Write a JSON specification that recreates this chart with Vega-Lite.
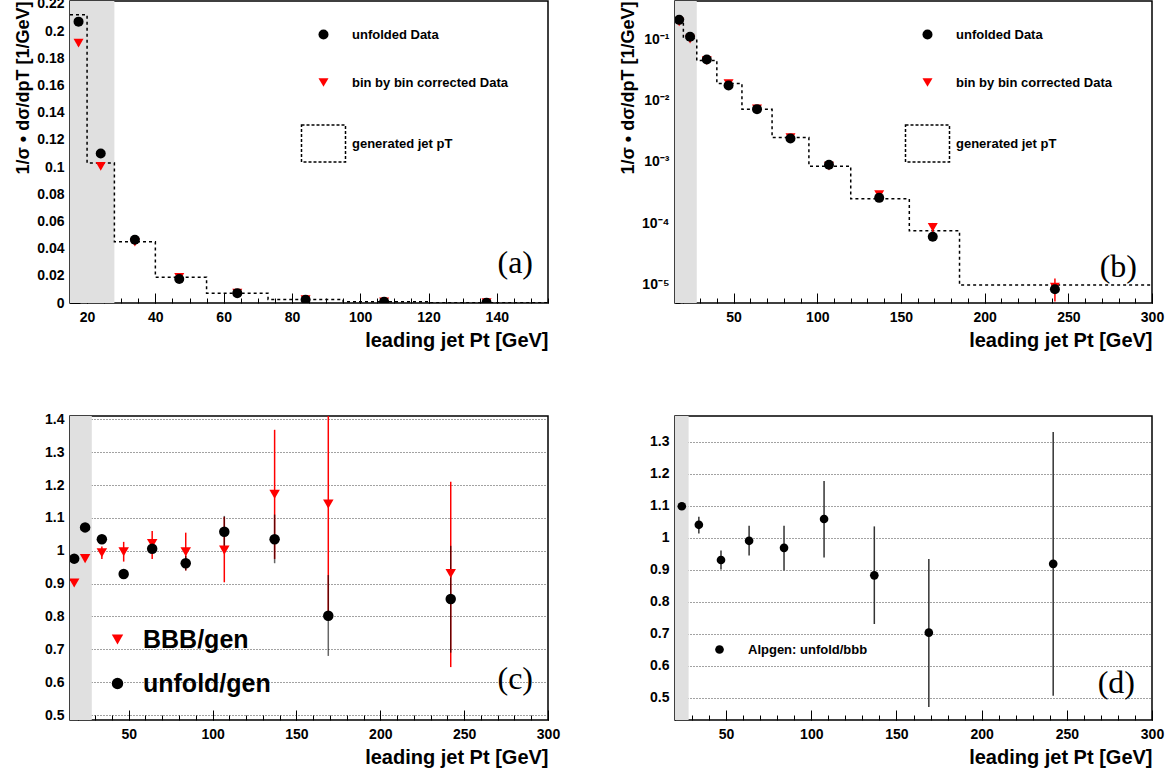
{
  "$schema": "https://vega.github.io/schema/vega-lite/v6.json",
  "autosize": {"type": "pad"},
  "padding": {"left": 14, "top": -4, "right": 0, "bottom": 0},
  "background": "white",
  "datasets": {
    "band": [{"pt": 15, "pt2": 28}],
    "bandd": [{"pt": 20, "pt2": 28}],
    "gen": [
      {"pt": 15, "v": 0.212}, {"pt": 20, "v": 0.103}, {"pt": 28, "v": 0.045}, {"pt": 40, "v": 0.019},
      {"pt": 55, "v": 0.0072}, {"pt": 73, "v": 0.0025}, {"pt": 95, "v": 0.00085}, {"pt": 120, "v": 0.00025},
      {"pt": 155, "v": 0.000075}, {"pt": 185, "v": 0.0000098}, {"pt": 300, "v": 0.0000098}
    ],
    "pts": [
      {"series": "bin by bin corrected Data", "pt": 17.5, "v": 0.1912, "lo": 0.189, "hi": 0.193},
      {"series": "bin by bin corrected Data", "pt": 24, "v": 0.1005, "lo": 0.099, "hi": 0.102},
      {"series": "bin by bin corrected Data", "pt": 34, "v": 0.0447, "lo": 0.0441, "hi": 0.0453},
      {"series": "bin by bin corrected Data", "pt": 47, "v": 0.01894, "lo": 0.0186, "hi": 0.0193},
      {"series": "bin by bin corrected Data", "pt": 64, "v": 0.00736, "lo": 0.0072, "hi": 0.0075},
      {"series": "bin by bin corrected Data", "pt": 84, "v": 0.00249, "lo": 0.00243, "hi": 0.00255},
      {"series": "bin by bin corrected Data", "pt": 107, "v": 0.000852, "lo": 0.00081, "hi": 0.0009},
      {"series": "bin by bin corrected Data", "pt": 137, "v": 0.000293, "lo": 0.00027, "hi": 0.000316},
      {"series": "bin by bin corrected Data", "pt": 169, "v": 0.0000857, "lo": 0.00007, "hi": 0.000101},
      {"series": "bin by bin corrected Data", "pt": 242, "v": 0.00000912, "lo": 0.0000053, "hi": 0.0000125},
      {"series": "unfolded Data", "pt": 17.5, "v": 0.207, "lo": 0.205, "hi": 0.209},
      {"series": "unfolded Data", "pt": 24, "v": 0.110, "lo": 0.109, "hi": 0.111},
      {"series": "unfolded Data", "pt": 34, "v": 0.0466, "lo": 0.046, "hi": 0.0472},
      {"series": "unfolded Data", "pt": 47, "v": 0.01765, "lo": 0.0174, "hi": 0.0179},
      {"series": "unfolded Data", "pt": 64, "v": 0.00724, "lo": 0.0071, "hi": 0.0074},
      {"series": "unfolded Data", "pt": 84, "v": 0.00241, "lo": 0.00234, "hi": 0.00248},
      {"series": "unfolded Data", "pt": 107, "v": 0.000899, "lo": 0.00086, "hi": 0.00094},
      {"series": "unfolded Data", "pt": 137, "v": 0.000259, "lo": 0.000245, "hi": 0.000273},
      {"series": "unfolded Data", "pt": 169, "v": 0.0000602, "lo": 0.000052, "hi": 0.000069},
      {"series": "unfolded Data", "pt": 242, "v": 0.00000836, "lo": 0.0000068, "hi": 0.0000099}
    ],
    "ratio": [
      {"series": "BBB/gen", "pt": 17.5, "v": 0.902, "lo": 0.895, "hi": 0.91},
      {"series": "BBB/gen", "pt": 24, "v": 0.976, "lo": 0.97, "hi": 0.982},
      {"series": "BBB/gen", "pt": 34, "v": 0.994, "lo": 0.975, "hi": 1.013},
      {"series": "BBB/gen", "pt": 47, "v": 0.997, "lo": 0.967, "hi": 1.027},
      {"series": "BBB/gen", "pt": 64, "v": 1.022, "lo": 0.975, "hi": 1.06},
      {"series": "BBB/gen", "pt": 84, "v": 0.997, "lo": 0.94, "hi": 1.055},
      {"series": "BBB/gen", "pt": 107, "v": 1.002, "lo": 0.904, "hi": 1.103},
      {"series": "BBB/gen", "pt": 137, "v": 1.172, "lo": 0.975, "hi": 1.368},
      {"series": "BBB/gen", "pt": 169, "v": 1.142, "lo": 0.8, "hi": 1.48},
      {"series": "BBB/gen", "pt": 242, "v": 0.931, "lo": 0.646, "hi": 1.21},
      {"series": "unfold/gen", "pt": 17.5, "v": 0.976, "lo": 0.97, "hi": 0.982},
      {"series": "unfold/gen", "pt": 24, "v": 1.071, "lo": 1.065, "hi": 1.077},
      {"series": "unfold/gen", "pt": 34, "v": 1.035, "lo": 1.03, "hi": 1.04},
      {"series": "unfold/gen", "pt": 47, "v": 0.929, "lo": 0.923, "hi": 0.935},
      {"series": "unfold/gen", "pt": 64, "v": 1.006, "lo": 0.995, "hi": 1.017},
      {"series": "unfold/gen", "pt": 84, "v": 0.962, "lo": 0.94, "hi": 0.984},
      {"series": "unfold/gen", "pt": 107, "v": 1.058, "lo": 1.01, "hi": 1.106},
      {"series": "unfold/gen", "pt": 137, "v": 1.035, "lo": 0.962, "hi": 1.11},
      {"series": "unfold/gen", "pt": 169, "v": 0.802, "lo": 0.68, "hi": 0.926},
      {"series": "unfold/gen", "pt": 242, "v": 0.853, "lo": 0.69, "hi": 1.015}
    ],
    "alp": [
      {"series": "Alpgen: unfold/bbb", "pt": 24, "v": 1.098, "lo": 1.088, "hi": 1.108},
      {"series": "Alpgen: unfold/bbb", "pt": 34, "v": 1.04, "lo": 1.013, "hi": 1.065},
      {"series": "Alpgen: unfold/bbb", "pt": 47, "v": 0.93, "lo": 0.9, "hi": 0.96},
      {"series": "Alpgen: unfold/bbb", "pt": 63.5, "v": 0.99, "lo": 0.944, "hi": 1.037},
      {"series": "Alpgen: unfold/bbb", "pt": 84, "v": 0.968, "lo": 0.897, "hi": 1.037},
      {"series": "Alpgen: unfold/bbb", "pt": 107.5, "v": 1.058, "lo": 0.938, "hi": 1.177},
      {"series": "Alpgen: unfold/bbb", "pt": 137, "v": 0.882, "lo": 0.73, "hi": 1.035},
      {"series": "Alpgen: unfold/bbb", "pt": 169, "v": 0.703, "lo": 0.471, "hi": 0.933},
      {"series": "Alpgen: unfold/bbb", "pt": 242, "v": 0.918, "lo": 0.506, "hi": 1.33}
    ]
  },
  "columns": 2,
  "spacing": {"column": 127, "row": 113},
  "bounds": "flush",
  "resolve": {
    "scale": {"x": "independent", "y": "independent", "color": "independent", "shape": "independent", "stroke": "independent", "strokeDash": "independent"},
    "legend": {"color": "independent", "shape": "independent", "stroke": "independent", "strokeDash": "independent"}
  },
  "concat": [
    {
      "width": 478, "height": 302,
      "title": {"text": "(a)", "orient": "top", "anchor": "end", "frame": "group", "baseline": "middle", "offset": 0, "dx": -15, "dy": 298},
      "resolve": {"axis": {"x": "independent", "y": "independent"}},
      "layer": [
        {
          "data": {"name": "band"},
          "mark": {"type": "rect", "fill": "#e0e0e0"},
          "encoding": {
            "x": {"field": "pt", "type": "quantitative", "scale": {"domain": [15, 155], "nice": false, "zero": false},
              "axis": {"orient": "bottom", "title": "leading jet Pt [GeV]", "offset": -10, "tickSize": 10, "format": "~g", "tickCount": 1000,
                "values": [20, 40, 60, 80, 100, 120, 140]}},
            "x2": {"field": "pt2"}
          }
        },
        {
          "data": {"name": "gen"},
          "mark": {"type": "line", "interpolate": "step-after", "stroke": "#000", "strokeDash": [3, 3], "strokeWidth": 1.5, "clip": true},
          "encoding": {
            "x": {"field": "pt", "type": "quantitative", "scale": {"domain": [15, 155], "nice": false, "zero": false},
              "axis": {"orient": "bottom", "title": null, "labels": false, "offset": -5, "tickSize": 5, "tickCount": 1000,
                "values": [15,20,25,30,35,40,45,50,55,60,65,70,75,80,85,90,95,100,105,110,115,120,125,130,135,140,145,150,155]}},
            "y": {"field": "v", "type": "quantitative", "scale": {"domain": [0, 0.2222], "nice": false},
              "axis": {"orient": "left", "title": "1/σ • dσ/dpT [1/GeV]", "format": "~g", "offset": -10, "tickSize": 10, "tickCount": 1000,
                "values": [0, 0.02, 0.04, 0.06, 0.08, 0.1, 0.12, 0.14, 0.16, 0.18, 0.2, 0.22]}}
          }
        },
        {
          "data": {"name": "pts"},
          "transform": [{"filter": "datum.series === 'bin by bin corrected Data'"}],
          "mark": {"type": "rule", "color": "#ff0000", "strokeWidth": 1.5, "clip": true},
          "encoding": {
            "x": {"field": "pt", "type": "quantitative", "scale": {"domain": [15, 155], "nice": false, "zero": false}, "axis": null},
            "y": {"field": "lo", "type": "quantitative", "scale": {"domain": [0, 0.2222], "nice": false},
              "axis": {"orient": "left", "title": null, "labels": false, "offset": -5, "tickSize": 5, "tickCount": 1000,
                "values": [0,0.004,0.008,0.012,0.016,0.02,0.024,0.028,0.032,0.036,0.04,0.044,0.048,0.052,0.056,0.06,0.064,0.068,0.072,0.076,0.08,0.084,0.088,0.092,0.096,0.1,0.104,0.108,0.112,0.116,0.12,0.124,0.128,0.132,0.136,0.14,0.144,0.148,0.152,0.156,0.16,0.164,0.168,0.172,0.176,0.18,0.184,0.188,0.192,0.196,0.2,0.204,0.208,0.212,0.216,0.22]}},
            "y2": {"field": "hi"}
          }
        },
        {
          "data": {"name": "pts"},
          "mark": {"type": "point", "filled": true, "size": 100, "opacity": 1, "strokeWidth": 1.5, "clip": true},
          "encoding": {
            "x": {"field": "pt", "type": "quantitative", "scale": {"domain": [15, 155], "nice": false, "zero": false}, "axis": null},
            "y": {"field": "v", "type": "quantitative", "scale": {"domain": [0, 0.2222], "nice": false}, "axis": null},
            "color": {"field": "series", "type": "nominal",
              "scale": {"domain": ["unfolded Data", "bin by bin corrected Data", "generated jet pT"], "range": ["#000000", "#ff0000", "transparent"]},
              "legend": {"orient": "none", "legendX": 247, "legendY": 27, "symbolSize": 100, "rowPadding": 32, "labelOffset": 22, "symbolStrokeWidth": 1.5}},
            "shape": {"field": "series", "type": "nominal",
              "scale": {"domain": ["unfolded Data", "bin by bin corrected Data", "generated jet pT"], "range": ["circle", "triangle-down", "M-4.4,-3.7H4.4V3.7H-4.4Z"]},
              "legend": {"orient": "none", "legendX": 247, "legendY": 27, "symbolSize": 100, "rowPadding": 32, "labelOffset": 22, "symbolStrokeWidth": 1.5}},
            "stroke": {"field": "series", "type": "nominal",
              "scale": {"domain": ["unfolded Data", "bin by bin corrected Data", "generated jet pT"], "range": ["transparent", "transparent", "#000000"]},
              "legend": {"orient": "none", "legendX": 247, "legendY": 27, "symbolSize": 100, "rowPadding": 32, "labelOffset": 22, "symbolStrokeWidth": 1.5}},
            "strokeDash": {"field": "series", "type": "nominal",
              "scale": {"domain": ["unfolded Data", "bin by bin corrected Data", "generated jet pT"], "range": [[1, 0], [1, 0], [3, 2]]},
              "legend": {"orient": "none", "legendX": 247, "legendY": 27, "symbolSize": 100, "rowPadding": 32, "labelOffset": 22, "symbolStrokeWidth": 1.5}}
          }
        }
      ]
    },
    {
      "width": 477, "height": 302,
      "title": {"text": "(b)", "orient": "top", "anchor": "end", "frame": "group", "baseline": "middle", "offset": 0, "dx": -15, "dy": 298},
      "resolve": {"axis": {"x": "independent", "y": "independent"}},
      "layer": [
        {
          "data": {"name": "band"},
          "mark": {"type": "rect", "fill": "#e0e0e0"},
          "encoding": {
            "x": {"field": "pt", "type": "quantitative", "scale": {"domain": [15, 300], "nice": false, "zero": false},
              "axis": {"orient": "bottom", "title": "leading jet Pt [GeV]", "offset": -10, "tickSize": 10, "format": "~g", "tickCount": 1000,
                "values": [50, 100, 150, 200, 250, 300]}},
            "x2": {"field": "pt2"}
          }
        },
        {
          "data": {"name": "gen"},
          "mark": {"type": "line", "interpolate": "step-after", "stroke": "#000", "strokeDash": [3, 3], "strokeWidth": 1.5, "clip": true},
          "encoding": {
            "x": {"field": "pt", "type": "quantitative", "scale": {"domain": [15, 300], "nice": false, "zero": false},
              "axis": {"orient": "bottom", "title": null, "labels": false, "offset": -5, "tickSize": 5, "tickCount": 1000,
                "values": [20,30,40,50,60,70,80,90,100,110,120,130,140,150,160,170,180,190,200,210,220,230,240,250,260,270,280,290,300]}},
            "y": {"field": "v", "type": "quantitative", "scale": {"type": "log", "domain": [0.000005, 0.42], "nice": false},
              "axis": {"orient": "left", "title": "1/σ • dσ/dpT [1/GeV]", "offset": -10, "tickSize": 10, "tickCount": 1000,
                "values": [0.00001, 0.0001, 0.001, 0.01, 0.1],
                "labelExpr": "'10' + ['⁻⁵','⁻⁴','⁻³','⁻²','⁻¹','⁰'][round(log(datum.value)/LN10) + 5]"}}
          }
        },
        {
          "data": {"name": "pts"},
          "transform": [{"filter": "datum.series === 'bin by bin corrected Data'"}],
          "mark": {"type": "rule", "color": "#ff0000", "strokeWidth": 1.5, "clip": true},
          "encoding": {
            "x": {"field": "pt", "type": "quantitative", "scale": {"domain": [15, 300], "nice": false, "zero": false}, "axis": null},
            "y": {"field": "lo", "type": "quantitative", "scale": {"type": "log", "domain": [0.000005, 0.42], "nice": false},
              "axis": {"orient": "left", "title": null, "labels": false, "offset": -5, "tickSize": 5, "tickCount": 1000,
                "values": [0.000005,0.000006,0.000007,0.000008,0.000009,0.00001,0.00002,0.00003,0.00004,0.00005,0.00006,0.00007,0.00008,0.00009,0.0001,0.0002,0.0003,0.0004,0.0005,0.0006,0.0007,0.0008,0.0009,0.001,0.002,0.003,0.004,0.005,0.006,0.007,0.008,0.009,0.01,0.02,0.03,0.04,0.05,0.06,0.07,0.08,0.09,0.1,0.2,0.3,0.4]}},
            "y2": {"field": "hi"}
          }
        },
        {
          "data": {"name": "pts"},
          "mark": {"type": "point", "filled": true, "size": 100, "opacity": 1, "strokeWidth": 1.5, "clip": true},
          "encoding": {
            "x": {"field": "pt", "type": "quantitative", "scale": {"domain": [15, 300], "nice": false, "zero": false}, "axis": null},
            "y": {"field": "v", "type": "quantitative", "scale": {"type": "log", "domain": [0.000005, 0.42], "nice": false}, "axis": null},
            "color": {"field": "series", "type": "nominal",
              "scale": {"domain": ["unfolded Data", "bin by bin corrected Data", "generated jet pT"], "range": ["#000000", "#ff0000", "transparent"]},
              "legend": {"orient": "none", "legendX": 246, "legendY": 27, "symbolSize": 100, "rowPadding": 32, "labelOffset": 22, "symbolStrokeWidth": 1.5}},
            "shape": {"field": "series", "type": "nominal",
              "scale": {"domain": ["unfolded Data", "bin by bin corrected Data", "generated jet pT"], "range": ["circle", "triangle-down", "M-4.4,-3.7H4.4V3.7H-4.4Z"]},
              "legend": {"orient": "none", "legendX": 246, "legendY": 27, "symbolSize": 100, "rowPadding": 32, "labelOffset": 22, "symbolStrokeWidth": 1.5}},
            "stroke": {"field": "series", "type": "nominal",
              "scale": {"domain": ["unfolded Data", "bin by bin corrected Data", "generated jet pT"], "range": ["transparent", "transparent", "#000000"]},
              "legend": {"orient": "none", "legendX": 246, "legendY": 27, "symbolSize": 100, "rowPadding": 32, "labelOffset": 22, "symbolStrokeWidth": 1.5}},
            "strokeDash": {"field": "series", "type": "nominal",
              "scale": {"domain": ["unfolded Data", "bin by bin corrected Data", "generated jet pT"], "range": [[1, 0], [1, 0], [3, 2]]},
              "legend": {"orient": "none", "legendX": 246, "legendY": 27, "symbolSize": 100, "rowPadding": 32, "labelOffset": 22, "symbolStrokeWidth": 1.5}}
          }
        }
      ]
    },
    {
      "width": 478, "height": 304,
      "title": {"text": "(c)", "orient": "top", "anchor": "end", "frame": "group", "baseline": "middle", "offset": 0, "dx": -15, "dy": 299},
      "resolve": {"axis": {"x": "independent", "y": "independent"}},
      "layer": [
        {
          "data": {"name": "band"},
          "mark": {"type": "rect", "fill": "#e0e0e0"},
          "encoding": {
            "x": {"field": "pt", "type": "quantitative", "scale": {"domain": [15, 300], "nice": false, "zero": false},
              "axis": {"orient": "bottom", "title": "leading jet Pt [GeV]", "offset": -10, "tickSize": 10, "format": "~g", "tickCount": 1000,
                "values": [50, 100, 150, 200, 250, 300]}},
            "x2": {"field": "pt2"}
          }
        },
        {
          "mark": {"type": "rule", "color": "#000", "strokeWidth": 1.2},
          "encoding": {
            "y": {"datum": 1, "type": "quantitative", "scale": {"domain": [0.485, 1.41], "nice": false, "zero": false},
              "axis": {"orient": "left", "title": null, "format": "~g", "offset": -10, "tickSize": 10, "tickCount": 1000,
                "values": [0.5, 0.6, 0.7, 0.8, 0.9, 1, 1.1, 1.2, 1.3, 1.4]}}
          }
        },
        {
          "data": {"name": "ratio"},
          "transform": [{"filter": "datum.series === 'BBB/gen'"}],
          "mark": {"type": "rule", "color": "#ff0000", "strokeWidth": 1.5, "clip": true},
          "encoding": {
            "x": {"field": "pt", "type": "quantitative", "scale": {"domain": [15, 300], "nice": false, "zero": false},
              "axis": {"orient": "bottom", "title": null, "labels": false, "offset": -5, "tickSize": 5, "tickCount": 1000,
                "values": [20,30,40,50,60,70,80,90,100,110,120,130,140,150,160,170,180,190,200,210,220,230,240,250,260,270,280,290,300]}},
            "y": {"field": "lo", "type": "quantitative", "scale": {"domain": [0.485, 1.41], "nice": false, "zero": false},
              "axis": {"orient": "left", "title": null, "labels": false, "offset": -5, "tickSize": 5, "tickCount": 1000,
                "values": [0.5,0.52,0.54,0.56,0.58,0.6,0.62,0.64,0.66,0.68,0.7,0.72,0.74,0.76,0.78,0.8,0.82,0.84,0.86,0.88,0.9,0.92,0.94,0.96,0.98,1,1.02,1.04,1.06,1.08,1.1,1.12,1.14,1.16,1.18,1.2,1.22,1.24,1.26,1.28,1.3,1.32,1.34,1.36,1.38,1.4]}},
            "y2": {"field": "hi"}
          }
        },
        {
          "data": {"name": "ratio"},
          "transform": [{"filter": "datum.series === 'unfold/gen'"}],
          "mark": {"type": "rule", "color": "#000000", "opacity": 0.6, "strokeWidth": 1.5, "clip": true},
          "encoding": {
            "x": {"field": "pt", "type": "quantitative", "scale": {"domain": [15, 300], "nice": false, "zero": false}, "axis": null},
            "y": {"field": "lo", "type": "quantitative", "scale": {"domain": [0.485, 1.41], "nice": false, "zero": false},
              "axis": {"orient": "left", "title": null, "labels": false, "ticks": false, "grid": true, "gridDash": [1, 2], "gridColor": "#444", "tickCount": 1000,
                "values": [0.5, 0.6, 0.7, 0.8, 0.9, 1, 1.1, 1.2, 1.3, 1.4]}},
            "y2": {"field": "hi"}
          }
        },
        {
          "data": {"name": "ratio"},
          "mark": {"type": "point", "filled": true, "size": 110, "opacity": 1, "clip": true},
          "encoding": {
            "x": {"field": "pt", "type": "quantitative", "scale": {"domain": [15, 300], "nice": false, "zero": false}, "axis": null},
            "y": {"field": "v", "type": "quantitative", "scale": {"domain": [0.485, 1.41], "nice": false, "zero": false}, "axis": null},
            "color": {"field": "series", "type": "nominal",
              "scale": {"domain": ["BBB/gen", "unfold/gen"], "range": ["#ff0000", "#000000"]},
              "legend": {"orient": "none", "legendX": 35, "legendY": 211, "symbolSize": 130, "rowPadding": 18, "labelOffset": 13, "labelFontSize": 25}},
            "shape": {"field": "series", "type": "nominal",
              "scale": {"domain": ["BBB/gen", "unfold/gen"], "range": ["triangle-down", "circle"]},
              "legend": {"orient": "none", "legendX": 35, "legendY": 211, "symbolSize": 130, "rowPadding": 18, "labelOffset": 13, "labelFontSize": 25}}
          }
        }
      ]
    },
    {
      "width": 477, "height": 304,
      "title": {"text": "(d)", "orient": "top", "anchor": "end", "frame": "group", "baseline": "middle", "offset": 0, "dx": -17, "dy": 299},
      "resolve": {"axis": {"x": "independent", "y": "independent"}},
      "layer": [
        {
          "data": {"name": "bandd"},
          "mark": {"type": "rect", "fill": "#e0e0e0"},
          "encoding": {
            "x": {"field": "pt", "type": "quantitative", "scale": {"domain": [20, 300], "nice": false, "zero": false},
              "axis": {"orient": "bottom", "title": "leading jet Pt [GeV]", "offset": -10, "tickSize": 10, "format": "~g", "tickCount": 1000,
                "values": [50, 100, 150, 200, 250, 300]}},
            "x2": {"field": "pt2"}
          }
        },
        {
          "mark": {"type": "rule", "color": "#000", "strokeWidth": 1.2},
          "encoding": {
            "y": {"datum": 1, "type": "quantitative", "scale": {"domain": [0.43, 1.38], "nice": false, "zero": false},
              "axis": {"orient": "left", "title": null, "format": "~g", "offset": -10, "tickSize": 10, "tickCount": 1000,
                "values": [0.5, 0.6, 0.7, 0.8, 0.9, 1, 1.1, 1.2, 1.3]}}
          }
        },
        {
          "data": {"name": "alp"},
          "mark": {"type": "rule", "color": "#333333", "strokeWidth": 1.5, "clip": true},
          "encoding": {
            "x": {"field": "pt", "type": "quantitative", "scale": {"domain": [20, 300], "nice": false, "zero": false},
              "axis": {"orient": "bottom", "title": null, "labels": false, "offset": -5, "tickSize": 5, "tickCount": 1000,
                "values": [20,30,40,50,60,70,80,90,100,110,120,130,140,150,160,170,180,190,200,210,220,230,240,250,260,270,280,290,300]}},
            "y": {"field": "lo", "type": "quantitative", "scale": {"domain": [0.43, 1.38], "nice": false, "zero": false},
              "axis": {"orient": "left", "title": null, "labels": false, "offset": -5, "tickSize": 5, "tickCount": 1000,
                "values": [0.44,0.46,0.48,0.5,0.52,0.54,0.56,0.58,0.6,0.62,0.64,0.66,0.68,0.7,0.72,0.74,0.76,0.78,0.8,0.82,0.84,0.86,0.88,0.9,0.92,0.94,0.96,0.98,1,1.02,1.04,1.06,1.08,1.1,1.12,1.14,1.16,1.18,1.2,1.22,1.24,1.26,1.28,1.3,1.32,1.34,1.36,1.38]}},
            "y2": {"field": "hi"}
          }
        },
        {
          "data": {"name": "alp"},
          "mark": {"type": "point", "filled": true, "size": 75, "opacity": 1, "clip": true},
          "encoding": {
            "x": {"field": "pt", "type": "quantitative", "scale": {"domain": [20, 300], "nice": false, "zero": false}, "axis": null},
            "y": {"field": "v", "type": "quantitative", "scale": {"domain": [0.43, 1.38], "nice": false, "zero": false},
              "axis": {"orient": "left", "title": null, "labels": false, "ticks": false, "grid": true, "gridDash": [1, 2], "gridColor": "#444", "tickCount": 1000,
                "values": [0.5, 0.6, 0.7, 0.8, 0.9, 1, 1.1, 1.2, 1.3]}},
            "color": {"field": "series", "type": "nominal", "scale": {"domain": ["Alpgen: unfold/bbb"], "range": ["#000000"]},
              "legend": {"orient": "none", "legendX": 38, "legendY": 227, "symbolSize": 75, "labelOffset": 22}},
            "shape": {"field": "series", "type": "nominal", "scale": {"domain": ["Alpgen: unfold/bbb"], "range": ["circle"]},
              "legend": {"orient": "none", "legendX": 38, "legendY": 227, "symbolSize": 75, "labelOffset": 22}}
          }
        }
      ]
    }
  ],
  "config": {
    "view": {"stroke": "#000000", "strokeWidth": 1.5},
    "axis": {
      "labelFont": "Liberation Sans", "labelFontWeight": "bold", "labelFontSize": 14, "labelColor": "#000",
      "titleFont": "Liberation Sans", "titleFontWeight": "bold", "titleFontSize": 20, "titleColor": "#000",
      "titleAnchor": "end", "domain": false, "grid": false, "tickColor": "#000", "tickWidth": 1,
      "labelOverlap": false, "labelFlush": false, "labelBound": false, "zindex": 1
    },
    "axisY": {"titleFontSize": 18, "labelPadding": 6, "titlePadding": 4},
    "axisX": {"labelPadding": 7, "titlePadding": 6},
    "legend": {"labelFont": "Liberation Sans", "labelFontWeight": "bold", "labelFontSize": 13, "labelColor": "#000", "title": null, "padding": 0},
    "title": {"font": "Liberation Serif", "fontSize": 32, "fontWeight": "normal", "color": "#000"}
  }
}
